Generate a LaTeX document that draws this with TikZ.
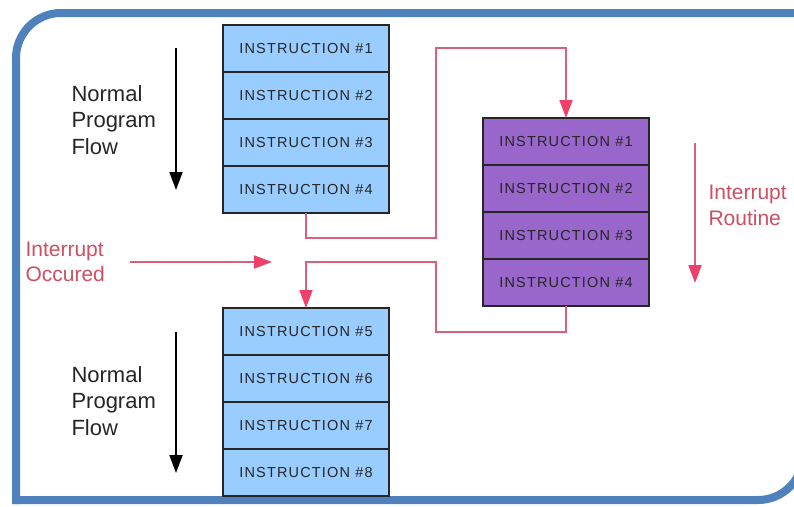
\documentclass[tikz,border=0pt]{standalone}
\usepackage{fontspec}
\setmainfont{Liberation Sans}
\newfontfamily\boxfont[LetterSpace=8]{Liberation Sans}
\usetikzlibrary{arrows.meta}
\definecolor{frameblue}{HTML}{4F81BD}
\definecolor{mainblue}{HTML}{99CCFF}
\definecolor{isrpurple}{HTML}{9966CC}
\definecolor{jumpred}{HTML}{D9607A}
\definecolor{tipred}{HTML}{F0406A}
\definecolor{labelred}{HTML}{CC4F63}
\tikzset{
  instr/.style = {
    draw=black!85, line width=1.6pt, fill=mainblue,
    minimum width=166pt, minimum height=47pt, outer sep=0pt,
    inner sep=0pt, text=black!85, font=\boxfont\fontsize{14.5}{16}\selectfont
  },
  isr/.style = {instr, fill=isrpurple},
  flow/.style = {
    draw=jumpred, line width=1.8pt,
    -{Triangle[length=18pt,width=13pt,color=tipred]}
  },
  progflow/.style = {
    draw=black, line width=1.8pt,
    -{Triangle[length=18pt,width=13pt]}
  },
  frame/.style = {draw=frameblue, line width=8pt}
}

\begin{document}
\begin{tikzpicture}[x=1pt,y=-1pt]
  \useasboundingbox (0,0) rectangle (794,506);
  \fill[white] (0,0) rectangle (794,506);
  \draw[frame,rounded corners=45pt] (16,504) -- (16,13) -- (830,13);
  \draw[frame,rounded corners=45pt] (12,500) -- (803,500) -- (803,380);

  \foreach \i/\y in {1/48.5,2/95.5,3/142.5,4/189.5}
    \node[instr] (l\i) at (306,\y) {INSTRUCTION \#\i};
  \foreach \i/\y in {5/331.5,6/378.5,7/425.5,8/472.5}
    \node[instr] (b\i) at (306,\y) {INSTRUCTION \#\i};
  \foreach \i/\y in {1/141.5,2/188.5,3/235.5,4/282.5}
    \node[isr] (r\i) at (566,\y) {INSTRUCTION \#\i};

  \coordinate (go1) at (436,238);
  \coordinate (go2) at (436,48);
  \coordinate (back1) at (436,332);
  \coordinate (back2) at (436,262);
  \draw[flow] (l4.south) |- (go1) -- (go2) -| (r1.north);
  \draw[flow] (r4.south) |- (back1) -- (back2) -| (b5.north);

  \node[anchor=west, align=left, font=\fontsize{22}{26.5}\selectfont, text=black!85]
    (topflow) at (68,120) {Normal\\Program\\Flow};
  \node[anchor=west, align=left, font=\fontsize{22}{26.5}\selectfont, text=black!85]
    (botflow) at (68,401) {Normal\\Program\\Flow};
  \coordinate (ta) at (176,48);
  \coordinate (tb) at (176,190);
  \coordinate (ba) at (176,332);
  \coordinate (bb) at (176,473);
  \draw[progflow] (ta) -- (tb);
  \draw[progflow] (ba) -- (bb);

  \node[anchor=west, align=left, font=\fontsize{21}{25}\selectfont, text=labelred]
    (occ) at (22,262) {Interrupt\\Occured};
  \coordinate (irqa) at (130,262);
  \coordinate (irqb) at (272,262);
  \draw[flow] (irqa) -- (irqb);

  \node[anchor=west, align=left, font=\fontsize{21}{26}\selectfont, text=labelred]
    (rout) at (705,205) {Interrupt\\Routine};
  \coordinate (ra) at (695,143);
  \coordinate (rb) at (695,283);
  \draw[flow] (ra) -- (rb);
\end{tikzpicture}
\end{document}
